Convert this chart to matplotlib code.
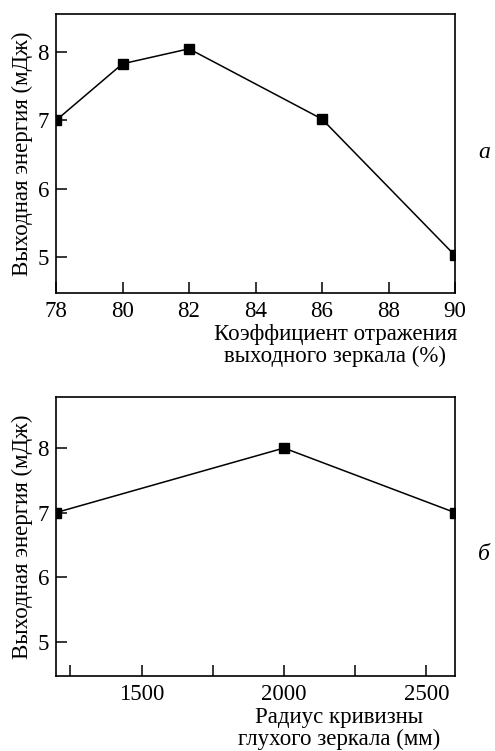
import matplotlib.pyplot as plt
from matplotlib.ticker import MultipleLocator

# данные
R_otr = [78, 80, 82, 86, 90]
E_otr = [7.0, 7.83, 8.05, 7.02, 5.02]

R_kriv = [1200, 2000, 2600]
E_kriv = [7.0, 8.0, 7.0]

ylabel = 'Выходная энергия (мДж)'
xlabel_a = 'Коэффициент отражения\nвыходного зеркала (%)'
xlabel_b = 'Радиус кривизны\nглухого зеркала (мм)'

plt.rcParams['font.family'] = 'Liberation Serif'
plt.rcParams['font.size'] = 16.5

fig = plt.figure(figsize=(4.95, 7.51), dpi=100)
W, H = 495, 751
ax1 = fig.add_axes([56 / W, 1 - 293 / H, 399 / W, 279 / H])
ax2 = fig.add_axes([56 / W, 1 - 676 / H, 399 / W, 279 / H])

ax1.plot(R_otr, E_otr, color='black', lw=1.1, marker='s', ms=6.5)
ax1.set_xlim(78, 90)
ax1.set_ylim(4.47, 8.56)
ax1.set_xticks([78, 80, 82, 84, 86, 88, 90])
ax1.set_yticks([5, 6, 7, 8])

ax2.plot(R_kriv, E_kriv, color='black', lw=1.1, marker='s', ms=6.5)
ax2.set_xlim(1200, 2600)
ax2.set_ylim(4.47, 8.79)
ax2.set_xticks([1500, 2000, 2500])
ax2.xaxis.set_minor_locator(MultipleLocator(250))
ax2.set_yticks([5, 6, 7, 8])

for ax in (ax1, ax2):
    ax.tick_params(direction='in', length=8, width=1.1, which='both', top=False, right=False)
    ax.tick_params(axis='x', pad=6)
    ax.tick_params(axis='y', pad=5)
    for s in ax.spines.values():
        s.set_linewidth(1.2)
    ax.set_ylabel(ylabel, fontsize=16.5, labelpad=3)

ax1.set_xlabel(xlabel_a, fontsize=16.5, ha='center', x=0.7, labelpad=1, linespacing=1.05)
ax2.set_xlabel(xlabel_b, fontsize=16.5, ha='center', x=0.71, labelpad=1, linespacing=1.05)

fig.text(484 / W, 1 - 152 / H, 'а', style='italic', fontsize=17, ha='center', va='center')
fig.text(484 / W, 1 - 555 / H, 'б', style='italic', fontsize=17, ha='center', va='center')

fig.savefig('out.png', dpi=100)
